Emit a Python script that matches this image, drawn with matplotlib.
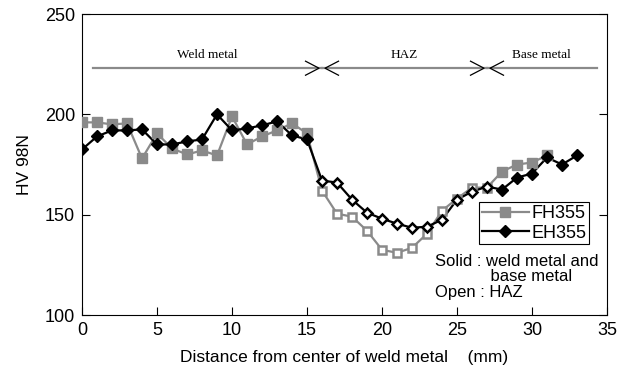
import matplotlib
matplotlib.use('Agg')
import matplotlib.pyplot as plt
import numpy as np

plt.rcParams['font.family'] = ['Liberation Sans', 'DejaVu Sans']

# hardness traverse, 1 mm pitch
fh_x = list(range(0, 32))
fh_hv = [196, 196, 195, 195.5, 178, 190.5, 183, 180, 182, 179.5, 199, 185,
         189, 192, 195.5, 190.5, 162, 150.5, 149, 142, 132.5, 131, 133.5, 140.5,
         152, 158, 163.5, 163.5, 171.5, 175, 176, 179.5]
eh_x = list(range(0, 34))
eh_hv = [182.5, 189, 192, 192, 192.5, 185, 185, 186.5, 187.5, 200, 192, 193,
         194.5, 196.5, 189.5, 187.5, 167, 166, 157.5, 151, 148, 145.5, 143.5, 144,
         147.5, 157.5, 161.5, 164, 162.5, 168.5, 170.5, 178.5, 175, 179.5]
haz_start, haz_end = 16, 27

zones = ['Weld metal', 'HAZ', 'Base metal']
zone_edges = [0.7, 16, 27, 34.3]

gray = '#8a8a8a'

fig = plt.figure(figsize=(6.3, 3.69), dpi=100)
ax = fig.add_axes([0.1302, 0.1463, 0.8333, 0.8157])

def draw(x, y, color, marker, ms, label):
    x = np.array(x)
    y = np.array(y)
    ax.plot(x, y, '-', color=color, lw=1.6, zorder=2)
    haz = (x >= haz_start) & (x <= haz_end)
    ax.plot(x[~haz], y[~haz], ls='none', marker=marker, ms=ms, mfc=color,
            mec=color, zorder=3)
    ax.plot(x[haz], y[haz], ls='none', marker=marker, ms=ms - 1.5, mfc='white',
            mec=color, mew=1.8, zorder=3)
    ax.plot([], [], '-', color=color, lw=1.6, marker=marker, ms=ms,
            mfc=color, mec=color, label=label)

draw(fh_x, fh_hv, gray, 's', 7.5, 'FH355')
draw(eh_x, eh_hv, 'black', 'D', 6.5, 'EH355')

ax.set_xlim(0, 35)
ax.set_ylim(100, 250)
ax.set_xticks(range(0, 36, 5))
ax.set_yticks(range(100, 251, 50))
ax.tick_params(direction='in', length=6, labelsize=13, right=True, top=False)
ax.tick_params(axis='x', pad=5)
ax.tick_params(axis='y', pad=5)
ax.set_ylabel('HV 98N', fontsize=12.5, labelpad=9)
ax.set_xlabel('Distance from center of weld metal    (mm)', fontsize=12.5, labelpad=8)

# zone arrows
ya = 223
for i, name in enumerate(zones):
    x0, x1 = zone_edges[i], zone_edges[i + 1]
    ax.plot([x0, x1], [ya, ya], color=gray, lw=1.6, zorder=1)
    ax.text((x0 + x1) / 2, ya + 3.5, name, ha='center', va='bottom',
            fontsize=9.5, family='Liberation Serif')
for b in zone_edges[1:3]:
    ax.plot([b - 1.1, b - 0.2, b - 1.1], [ya + 3.5, ya, ya - 3.5], color='black', lw=0.9)
    ax.plot([b + 1.1, b + 0.2, b + 1.1], [ya + 3.5, ya, ya - 3.5], color='black', lw=0.9)

leg = ax.legend(loc='upper left', bbox_to_anchor=(0.756, 0.375), fontsize=13,
                frameon=True, fancybox=False, edgecolor='black', handlelength=2.6,
                borderpad=0.15, labelspacing=0.15, handletextpad=0.15,
                borderaxespad=0, framealpha=1)
leg.get_frame().set_linewidth(0.8)
leg.set_zorder(5)

ax.text(23.5, 130.5, 'Solid : weld metal and\n            base metal\nOpen : HAZ',
        fontsize=12, ha='left', va='top', linespacing=1.05)

fig.savefig('out.png', dpi=100)
